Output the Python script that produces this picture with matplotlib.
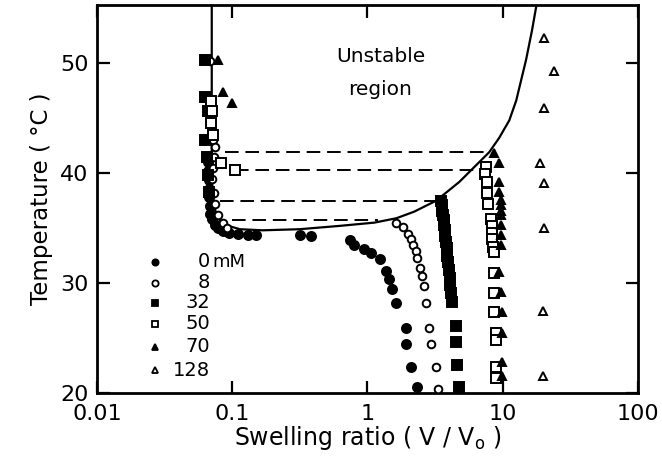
import matplotlib
matplotlib.use('Agg')
import matplotlib.pyplot as plt

plt.rcParams['font.family'] = ['DejaVu Sans']

# spinodal (stability limit) curve
curve_x = [0.0706, 0.0706, 0.0731, 0.0781, 0.088, 0.114, 0.168, 0.315, 0.62,
           1.127, 1.64, 2.22, 3.23, 4.78, 7.95, 9.42, 11.2, 12.6, 14.9, 16.5,
           17.8]
curve_t = [55.3, 39.4, 37.1, 35.9, 35.3, 34.9, 34.8, 34.9, 35.2,
           35.5, 35.9, 36.5, 37.5, 39.2, 41.9, 43.2, 44.8, 46.6, 50.3, 53.0,
           55.3]

# dashed tie lines
tie_t = [41.9, 40.3, 37.5, 35.7]
tie_left = [0.088, 0.105, 0.081, 0.10]
tie_right = [7.95, 6.7, 3.3, 1.2]

# 0 mM (filled circles)
x_0 = [0.066, 0.066, 0.067, 0.067, 0.067, 0.068, 0.069, 0.071, 0.074, 0.078,
       0.085, 0.095, 0.11, 0.13, 0.15, 0.32, 0.38, 0.74, 0.80, 0.95, 1.06,
       1.23, 1.38, 1.45, 1.53, 1.64, 1.94, 1.94, 2.11, 2.33]
t_0 = [41.0, 40.2, 39.4, 38.6, 37.8, 37.0, 36.3, 35.8, 35.3, 35.0,
       34.7, 34.6, 34.5, 34.4, 34.4, 34.4, 34.3, 33.9, 33.5, 33.1, 32.7,
       32.2, 31.1, 30.4, 29.5, 28.2, 25.9, 24.5, 22.4, 20.5]

# 8 mM (open circles)
x_8 = [0.069, 0.072, 0.074, 0.073, 0.072, 0.071, 0.073, 0.075, 0.078, 0.085,
       0.092, 1.64, 1.82, 1.98, 2.11, 2.19, 2.29, 2.33, 2.46, 2.55, 2.64,
       2.72, 2.87, 2.97, 3.23, 3.3]
t_8 = [50.2, 43.0, 42.4, 41.5, 40.5, 39.5, 38.2, 37.2, 36.2, 35.5,
       35.0, 35.5, 35.1, 34.5, 34.0, 33.5, 32.9, 32.3, 31.4, 30.6, 29.7,
       28.2, 25.9, 24.5, 22.4, 20.4]

# 32 mM (filled squares)
x_32 = [0.063, 0.063, 0.066, 0.063, 0.065, 0.066, 0.067,
        3.52, 3.55, 3.58, 3.62, 3.66, 3.70, 3.74, 3.78, 3.82, 3.86, 3.90,
        3.95, 4.0, 4.05, 4.1, 4.15, 4.24, 4.5, 4.5, 4.6, 4.75]
t_32 = [50.3, 46.9, 45.7, 43.0, 41.5, 39.8, 38.3,
        37.5, 37.1, 36.6, 36.2, 35.7, 35.3, 34.8, 34.3, 33.7, 33.2, 32.5,
        31.9, 31.2, 30.5, 29.8, 29.1, 28.3, 26.1, 24.6, 22.5, 20.5]

# 50 mM (open squares)
x_50 = [0.070, 0.071, 0.070, 0.072, 0.083, 0.105,
        7.5, 7.4, 7.6, 7.7, 7.8, 8.2, 8.3, 8.3, 8.4, 8.5, 8.6, 8.65, 8.65,
        8.7, 8.9, 8.9, 8.9, 8.95]
t_50 = [46.6, 45.7, 44.6, 43.5, 40.9, 40.3,
        40.6, 39.9, 39.2, 38.2, 37.2, 35.8, 35.2, 34.6, 34.0, 33.3, 32.8,
        30.9, 29.1, 27.4, 25.5, 24.8, 22.4, 21.4]

# 70 mM (filled triangles)
x_70 = [0.078, 0.085, 0.10, 8.65, 9.42, 9.42, 9.42, 9.72, 9.72, 9.72, 9.72,
        9.72, 9.72, 9.72, 9.42, 9.72, 9.85, 9.85, 9.85, 9.85]
t_70 = [50.3, 47.4, 46.4, 41.8, 40.9, 39.2, 38.3, 37.6, 37.1, 36.6, 36.2,
        35.3, 34.4, 33.5, 31.0, 29.2, 27.4, 25.5, 22.8, 21.5]

# 128 mM (open triangles)
x_128 = [20.2, 24.0, 20.2, 18.9, 20.2, 20.2, 20.0, 20.0]
t_128 = [52.3, 49.3, 45.9, 40.9, 39.1, 35.0, 27.5, 21.5]

labels = ['0', '8', '32', '50', '70', '128']
xs = [x_0, x_8, x_32, x_50, x_70, x_128]
ts = [t_0, t_8, t_32, t_50, t_70, t_128]
markers = ['o', 'o', 's', 's', '^', '^']
filled = [True, False, True, False, True, False]
sizes = [6.5, 5.5, 6.5, 6.5, 5.5, 5.5]

fig = plt.figure(figsize=(6.62, 4.66), dpi=100)
ax = fig.add_axes([0.1465, 0.1567, 0.817, 0.8326])

ax.plot(curve_x, curve_t, color='black', lw=1.6, zorder=2)
for t, xl, xr in zip(tie_t, tie_left, tie_right):
    ax.plot([xl, xr], [t, t], color='black', lw=1.4, dashes=(7, 3.5), zorder=2)

for x, t, m, f, s in zip(xs, ts, markers, filled, sizes):
    ax.plot(x, t, ls='none', marker=m, ms=s, mec='black', mew=1.4,
            mfc='black' if f else 'white', zorder=3)

# legend drawn by hand: markers, right aligned numbers, "mM" after the first
leg_y = [0.338, 0.284, 0.232, 0.178, 0.119, 0.059]
for lab, m, f, yy in zip(labels, markers, filled, leg_y):
    ax.plot([0.107], [yy], transform=ax.transAxes, ls='none', marker=m, ms=4.5,
            mec='black', mew=1.3, mfc='black' if f else 'white', clip_on=False)
    ax.text(0.209, yy, lab, transform=ax.transAxes, ha='right', va='center',
            fontsize=14)
ax.text(0.214, leg_y[0], 'mM', transform=ax.transAxes, ha='left', va='center',
        fontsize=13)

ax.text(1.25, 50.6, 'Unstable', ha='center', va='center', fontsize=14.5)
ax.text(1.25, 47.6, 'region', ha='center', va='center', fontsize=14.5)

ax.set_xscale('log')
ax.set_xlim(0.01, 100)
ax.set_ylim(20, 55.3)
ax.set_xticks([0.01, 0.1, 1, 10, 100])
ax.set_xticklabels(['0.01', '0.1', '1', '10', '100'])
ax.set_yticks([20, 30, 40, 50])
ax.minorticks_off()
ax.tick_params(direction='in', length=9, width=1.6, labelsize=16,
               top=True, right=True)
ax.tick_params(axis='x', pad=8)
ax.tick_params(axis='y', pad=6)
for sp in ax.spines.values():
    sp.set_linewidth(2)

ax.set_xlabel('Swelling ratio ( V / V$_\\mathregular{o}$ )', fontsize=17, labelpad=0)
ax.set_ylabel('Temperature ( \u00b0C )', fontsize=16.5, labelpad=5)

fig.savefig('out.png', dpi=100)
